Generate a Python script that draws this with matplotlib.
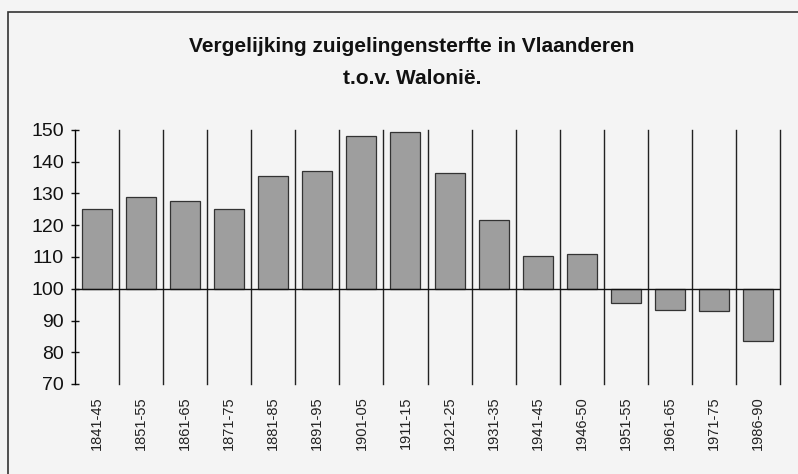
import matplotlib.pyplot as plt
import matplotlib.patches as mpatches

# periodes en index (Vlaanderen t.o.v. Wallonië = 100)
periodes = ['1841-45', '1851-55', '1861-65', '1871-75', '1881-85', '1891-95',
            '1901-05', '1911-15', '1921-25', '1931-35', '1941-45', '1946-50',
            '1951-55', '1961-65', '1971-75', '1986-90']
index = [125, 129, 127.5, 125, 135.5, 137, 148, 149.5,
         136.5, 121.5, 110.2, 111, 95.5, 93.4, 92.9, 83.4]
yticks = [70, 80, 90, 100, 110, 120, 130, 140, 150]

plt.rcParams['font.family'] = ['Liberation Sans', 'DejaVu Sans']

fig = plt.figure(figsize=(7.98, 4.74), dpi=100, facecolor='#f4f4f4')
ax = fig.add_axes([75/798, 1-384/474, 705/798, 254/474])
ax.set_facecolor('none')

x = range(len(periodes))
hoogte = [v - 100 for v in index]
ax.bar(x, hoogte, bottom=100, width=0.68, color='#9e9e9e',
       edgecolor='#333333', linewidth=0.9, zorder=3)

# scheidingslijnen tussen de periodes
for i in range(1, len(periodes) + 1):
    ax.axvline(i - 0.5, color='#222222', linewidth=1.0, zorder=2, clip_on=False)
ax.axhline(100, color='#111111', linewidth=1.0, zorder=4)

ax.set_xlim(-0.5, len(periodes) - 0.5)
ax.set_ylim(70, 150)
ax.set_yticks(yticks)
ax.set_xticks(list(x))
ax.set_xticklabels(periodes, rotation=90, fontsize=10.5, color='#222222')
ax.tick_params(axis='x', length=0, pad=9)
ax.tick_params(axis='y', direction='inout', length=6, width=1,
               labelsize=14, pad=5, colors='#111111')
for s in ['top', 'right', 'bottom']:
    ax.spines[s].set_visible(False)
ax.spines['left'].set_linewidth(1.0)

fig.text(412/798, 1-46/474, 'Vergelijking zuigelingensterfte in Vlaanderen',
         ha='center', va='center', fontsize=15, fontweight='bold', color='#111111')
fig.text(412/798, 1-79/474, 't.o.v. Walonië.',
         ha='center', va='center', fontsize=15, fontweight='bold', color='#111111')

# kader van de scan
fig.patches.append(mpatches.Rectangle((8/798, -0.05), 1.2, 1-12/474 + 0.05,
                                      transform=fig.transFigure, fill=False,
                                      edgecolor='#333333', linewidth=1.2))

fig.savefig('out.png', dpi=100, facecolor=fig.get_facecolor())
